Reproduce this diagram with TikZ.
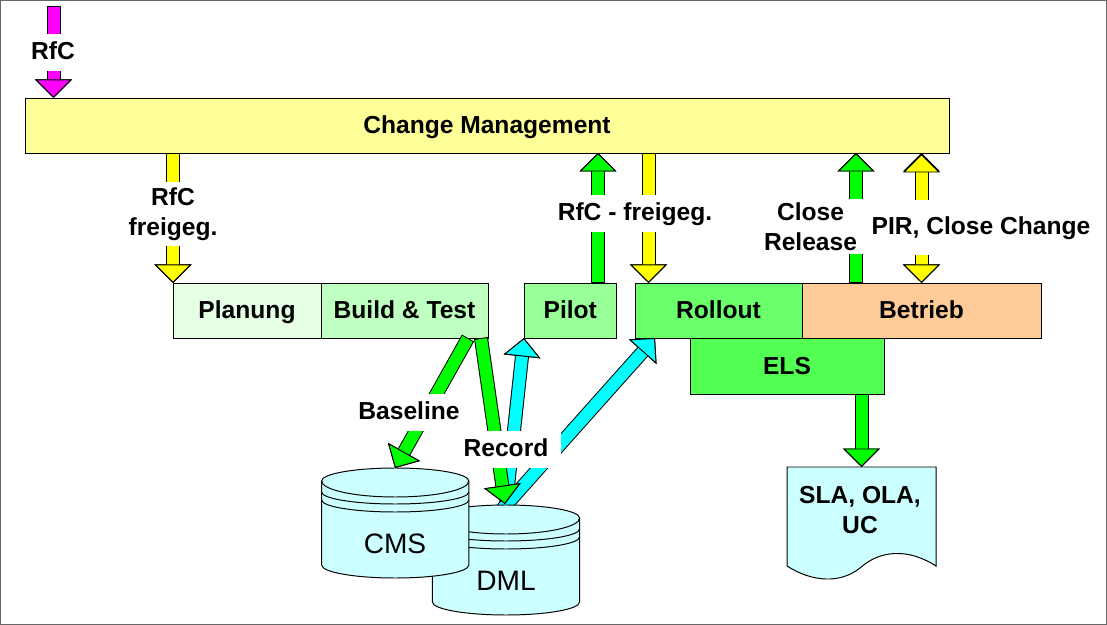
\documentclass[tikz,border=0pt]{standalone}
\usepackage{fontspec}
\setmainfont{Liberation Sans}
\usetikzlibrary{arrows.meta}
\definecolor{cmframe}{HTML}{666666}
\definecolor{cmyellow}{HTML}{FFFF99}
\definecolor{cmplan}{HTML}{E5FFE5}
\definecolor{cmbuild}{HTML}{BFFFBF}
\definecolor{cmpilot}{HTML}{99FF99}
\definecolor{cmrollout}{HTML}{6CFF6C}
\definecolor{cmels}{HTML}{52FF52}
\definecolor{cmbetrieb}{HTML}{FFCC99}
\definecolor{cmstore}{HTML}{CCFFFF}
\definecolor{cmpink}{HTML}{FF00FF}
\definecolor{cmsun}{HTML}{FFFF00}
\definecolor{cmgreen}{HTML}{00FF00}
\definecolor{cmcyan}{HTML}{00FFFF}
\tikzset{
  cmbox/.style={
    draw=black, line width=0.7pt, inner sep=0pt, outer sep=0pt,
    minimum height=1.375cm, text height=16pt, text depth=4pt,
    font=\fontsize{17.5}{21.3}\selectfont\bfseries},
  cmlabel/.style={
    fill=white, inner xsep=2pt, inner ysep=0pt, align=center,
    font=\fontsize{17.5}{21.3}\selectfont\bfseries},
  cmline/.style={text height=13.5pt, text depth=4pt},
  cmarrow/.style={
    >={Triangle[length=0.4625cm, width=0.925cm, line width=0.7pt,
      color=black, fill=#1]},
    ->, draw=#1, line width=0.3cm, shorten <=0.025cm,
    preaction={draw=black, line width=0.35cm, shorten <=0pt}},
  cmboth/.style={cmarrow=#1, <->},
  cmstorename/.style={font=\fontsize{20}{24}\selectfont},
  cmcan/.pic={
    \draw[fill=cmstore, line width=0.7pt] (-1.84,-0.325)
      arc[start angle=180, end angle=0, x radius=1.84, y radius=0.325]
      -- (1.84,-2.425)
      arc[start angle=360, end angle=180, x radius=1.84, y radius=0.325]
      -- cycle;
    \draw[line width=0.7pt] (-1.84,-0.325)
      arc[start angle=180, end angle=360, x radius=1.84, y radius=0.4];
    \draw[line width=0.7pt] (-1.84,-0.6)
      arc[start angle=180, end angle=360, x radius=1.84, y radius=0.3];
    \draw[line width=0.7pt] (-1.84,-0.8)
      arc[start angle=180, end angle=360, x radius=1.84, y radius=0.3];
  },
}
\begin{document}
\begin{tikzpicture}[x=1cm, y=1cm]
\useasboundingbox (0,0) rectangle (27.675,-15.625);
\draw[cmframe, line width=1.2pt] (0.015,-0.015) rectangle (27.66,-15.61);

% Process boxes.
\node[cmbox, fill=cmyellow, minimum width=23.1cm] (change) at (12.175,-3.1375)
  {Change Management};
\node[cmbox, fill=cmplan, minimum width=3.7cm] (planung) at (6.175,-7.7625)
  {Planung};
\node[cmbox, fill=cmbuild, minimum width=4.175cm] (build) at (10.1125,-7.7625)
  {Build \& Test};
\node[cmbox, fill=cmpilot, minimum width=2.3125cm] (pilot) at (14.256,-7.7625)
  {Pilot};
\node[cmbox, fill=cmrollout, minimum width=4.175cm] (rollout) at (17.9625,-7.7625)
  {Rollout};
\node[cmbox, fill=cmbetrieb, minimum width=5.975cm] (betrieb) at (23.0375,-7.7625)
  {Betrieb};
\node[cmbox, fill=cmels, minimum width=4.85cm, minimum height=1.4cm]
  (els) at (19.675,-9.15) {ELS};

% Free arrow ends.
\coordinate (rfcstart) at (1.3375,-0.15);
\coordinate (pilotout) at (14.95,-7.075);
\coordinate (rolloutin) at (16.2125,-7.075);
\coordinate (closeout) at (21.4,-7.075);
\coordinate (slatop) at (21.5375,-11.675);
\coordinate (buildbase) at (11.7,-8.45);
\coordinate (buildrec) at (12.025,-8.45);
\coordinate (cmstop) at (9.875,-11.7);
\coordinate (dmltop) at (12.625,-12.6);
\coordinate (dmlpilot) at (12.625,-12.85);
\coordinate (dmlroll) at (12.45,-12.85);
\coordinate (rolloutport) at (16.375,-8.45);

% These two start behind the DML store.
\draw[cmarrow=cmcyan] (dmlpilot) -- (pilot.south west);
\draw[cmarrow=cmcyan] (dmlroll) -- (rolloutport);

% Stores.
\pic at (12.65,-12.625) {cmcan};
\node[cmstorename] (dml) at (12.65,-14.525) {DML};
\pic at (9.881,-11.7) {cmcan};
\node[cmstorename] (cms) at (9.875,-13.6) {CMS};

% Document.
\draw[fill=cmstore, line width=0.7pt] (19.675,-11.675) -- (23.4,-11.675)
  -- (23.4,-14.15) .. controls (22.7,-13.7) and (22.0,-13.75) .. (21.5,-14.2)
  .. controls (21.0,-14.6) and (20.3,-14.55) .. (19.675,-14.15) -- cycle;
\node[cmlabel, fill=none] (sla) at (21.5,-12.75) {SLA, OLA,\\UC};

% Arrows.
\draw[cmarrow=cmpink] (rfcstart) -- (rfcstart |- change.north);
\draw[cmarrow=cmsun] (change.south -| planung.north west) -- (planung.north west);
\draw[cmarrow=cmgreen] (pilotout) -- (pilotout |- change.south);
\draw[cmarrow=cmsun] (rolloutin |- change.south) -- (rolloutin);
\draw[cmarrow=cmgreen] (closeout) -- (closeout |- change.south);
\draw[cmboth=cmsun] (betrieb.north |- change.south) -- (betrieb.north);
\draw[cmarrow=cmgreen] (slatop |- els.south) -- (slatop);
\draw[cmarrow=cmgreen] (buildbase) -- (cmstop);
\draw[cmarrow=cmgreen] (buildrec) -- (dmltop);

% Labels on the arrows.
\node[cmlabel, cmline, minimum height=0.925cm] (rfclabel) at (1.325,-1.3125) {RfC};
\node[cmlabel, minimum height=1.6cm] (freilabel) at (4.325,-5.35) {RfC\\freigeg.};
\node[cmlabel, cmline, minimum height=0.925cm] (pilotlabel) at (15.875,-5.3375) {RfC - freigeg.};
\node[cmlabel, minimum height=1.375cm, minimum width=2.65cm] (closelabel)
  at (20.2625,-5.675) {Close\\Release};
\node[cmlabel, cmline, minimum height=1.375cm] (pirlabel) at (24.525,-5.6875) {PIR, Close Change};
\node[cmlabel, cmline, minimum height=0.925cm] (baselabel) at (10.225,-10.3125) {Baseline};
\node[cmlabel, cmline, minimum height=0.925cm, minimum width=2.75cm] (reclabel)
  at (12.65,-11.2375) {Record};
\end{tikzpicture}
\end{document}
